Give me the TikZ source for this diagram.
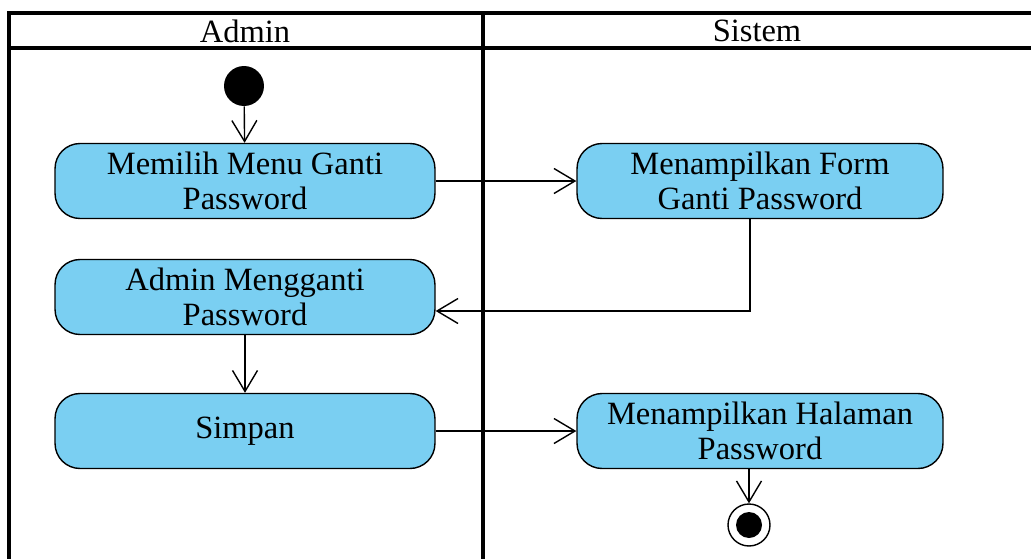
\documentclass[tikz,border=0pt]{standalone}
\usepackage{fontspec}
\setmainfont{Liberation Serif}
\usetikzlibrary{positioning,arrows.meta}
\definecolor{actblue}{RGB}{122,207,242}

\begin{document}
\begin{tikzpicture}
  [x=0.02cm,y=-0.02cm,
   act/.style={draw,fill=actblue,rounded corners=0.5cm,minimum width=7.6cm,minimum height=1.5cm,
     align=center,line width=0.8pt,font=\fontsize{18.5}{20}\selectfont},
   sysact/.style={act,minimum width=7.32cm},
   flow/.style={-{Straight Barb[length=0.42cm,width=0.5cm]},line width=0.8pt},
   lane/.style={line width=2pt},
   lanetitle/.style={font=\fontsize{18.5}{20}\selectfont}]

  \useasboundingbox (0,0) rectangle (1031,558);

  % swimlanes
  \draw[lane] (9,560) -- (9,13) -- (1035,13);
  \draw[lane] (9,48) -- (1035,48);
  \draw[lane] (483,13) -- (483,560);
  \node[lanetitle] (admin) at (245,31) {Admin};
  \node[lanetitle] (sistem) at (757,31) {Sistem};

  \node[circle,fill=black,minimum size=0.8cm,inner sep=0pt] (start) at (244,86) {};
  \node[act] (pilih) at (245,181) {Memilih Menu Ganti\\Password};
  \node[sysact] (form) at (760,181) {Menampilkan Form\\Ganti Password};
  \node[act] (ganti) at (245,297) {Admin Mengganti\\Password};
  \node[act] (simpan) at (245,431) {Simpan};
  \node[sysact] (halaman) at (760,431) {Menampilkan Halaman\\Password};
  \node[circle,draw,line width=0.8pt,fill=white,minimum size=0.84cm,inner sep=0pt] (end) at (749,525) {};
  \node[circle,fill=black,minimum size=0.52cm,inner sep=0pt] (endin) at (end) {};

  \draw[flow] (start) -- (pilih);
  \draw[flow] (pilih) -- (form);
  \draw[flow] ([xshift=-0.2cm]form.south) |- ([yshift=-0.28cm]ganti.east);
  \draw[flow] (ganti) -- (simpan);
  \draw[flow] (simpan) -- (halaman);
  \draw[flow] (halaman.south -| end) -- (end);

\end{tikzpicture}
\end{document}
